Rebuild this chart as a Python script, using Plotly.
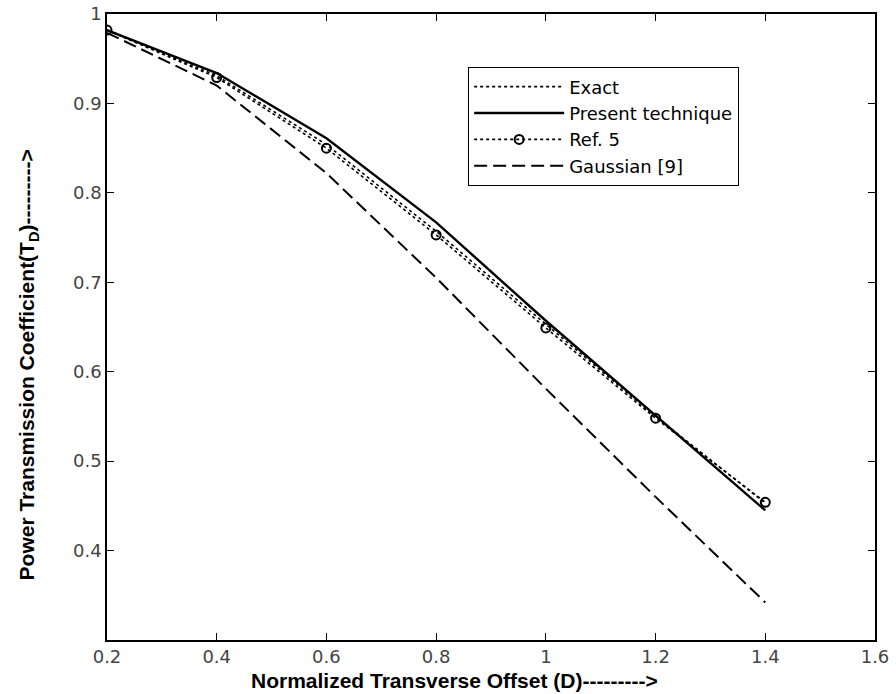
import plotly.graph_objects as go

offset_d = [0.2, 0.4, 0.6, 0.8, 1.0, 1.2, 1.4]
exact = [0.982, 0.931, 0.854, 0.757, 0.653, 0.550, 0.453]
present = [0.982, 0.934, 0.861, 0.767, 0.657, 0.551, 0.445]
ref5 = [0.982, 0.929, 0.850, 0.753, 0.649, 0.548, 0.454]
gaussian = [0.979, 0.920, 0.822, 0.705, 0.581, 0.460, 0.342]

x_ticks = [0.2, 0.4, 0.6, 0.8, 1.0, 1.2, 1.4, 1.6]
x_ticklabels = ["0.2", "0.4", "0.6", "0.8", "1", "1.2", "1.4", "1.6"]
y_ticks = [0.4, 0.5, 0.6, 0.7, 0.8, 0.9, 1.0]
y_ticklabels = ["0.4", "0.5", "0.6", "0.7", "0.8", "0.9", "1"]

x_title = "<b>Normalized Transverse Offset (D)---------></b>"
y_title = "<b>Power Transmission Coefficient(T<sub>D</sub>)---------></b>"

tick_font = "DejaVu Sans, Arial, sans-serif"
title_font = "Liberation Sans, Arial, sans-serif"

fig = go.Figure()
fig.add_trace(go.Scatter(x=offset_d, y=exact, mode="lines", name="Exact",
                         line=dict(color="black", width=1.6, dash="dot")))
fig.add_trace(go.Scatter(x=offset_d, y=present, mode="lines", name="Present technique",
                         line=dict(color="black", width=2.4)))
fig.add_trace(go.Scatter(x=offset_d, y=ref5, mode="lines+markers", name="Ref. 5",
                         line=dict(color="black", width=1.6, dash="dot"),
                         marker=dict(symbol="circle-open", size=9, color="black",
                                     line=dict(width=2, color="black"))))
fig.add_trace(go.Scatter(x=offset_d, y=gaussian, mode="lines", name="Gaussian [9]",
                         line=dict(color="black", width=2, dash="13px,6px")))

axis_common = dict(showline=True, linecolor="black", linewidth=1.5, mirror="ticks",
                   ticks="inside", ticklen=7, tickwidth=1.2, tickcolor="black",
                   showgrid=False, zeroline=False, automargin=False,
                   tickfont=dict(family=tick_font, size=18, color="#444"))

fig.update_layout(
    width=896, height=694,
    margin=dict(l=107, r=21, t=14, b=54, autoexpand=False),
    paper_bgcolor="white", plot_bgcolor="white",
    xaxis=dict(range=[0.2, 1.6], tickvals=x_ticks, ticktext=x_ticklabels, **axis_common),
    yaxis=dict(range=[0.3, 1.0], tickvals=y_ticks, ticktext=y_ticklabels, **axis_common),
    legend=dict(x=0.47, y=0.915, xanchor="left", yanchor="top",
                bgcolor="white", bordercolor="black", borderwidth=1.2,
                font=dict(family=tick_font, size=18, color="black"),
                tracegroupgap=0, itemwidth=90),
    showlegend=True,
    annotations=[
        dict(text=x_title, xref="paper", yref="paper", x=0.453, y=-0.0645,
             xanchor="center", yanchor="middle", showarrow=False,
             font=dict(family=title_font, size=21, color="black")),
        dict(text=y_title, xref="paper", yref="paper", x=-0.103, y=0.44,
             xanchor="center", yanchor="middle", showarrow=False, textangle=-90,
             font=dict(family=title_font, size=21, color="black")),
    ],
)

fig.write_html(
    "out.html",
    config={"displayModeBar": False},
    post_script=("var d=document.getElementById('{plot_id}');"
                 "d.style.position='absolute';d.style.top='0px';d.style.left='0px';"
                 "document.body.style.margin='0';document.body.style.overflow='hidden';"),
)
